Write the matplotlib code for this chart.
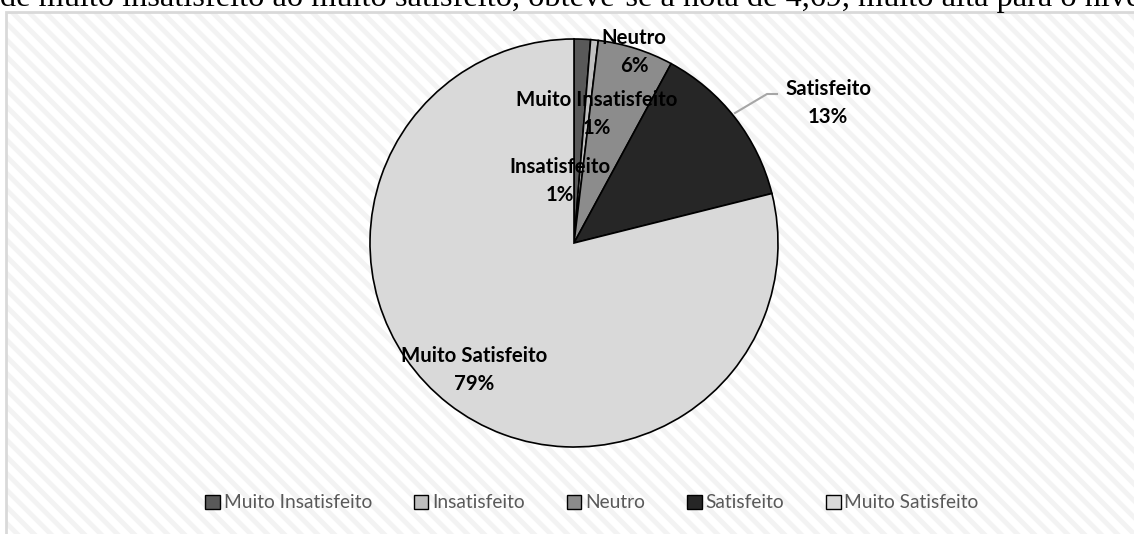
import matplotlib
matplotlib.use("Agg")
import matplotlib.pyplot as plt
from matplotlib.patches import Rectangle

categories = ["Muito Insatisfeito", "Insatisfeito", "Neutro", "Satisfeito", "Muito Satisfeito"]
shares = [1.3, 0.6, 6.0, 13.2, 78.9]
colors = ["#595959", "#bfbfbf", "#8c8c8c", "#262626", "#d9d9d9"]

# label text centres, pixel coords from the top-left corner
label_pos = [(597, 114), (560, 181), (634, 52), (828, 103), (474, 370)]

W, H = 1134, 534
plt.rcParams["hatch.linewidth"] = 3.5

fig = plt.figure(figsize=(W / 100, H / 100), dpi=100)
ax = fig.add_axes([0, 0, 1, 1])

# chart area: diagonal light stripes with a grey frame
ax.add_patch(Rectangle((5.5, -10), W + 20, H - 12 + 10, facecolor="white",
                       edgecolor="#f3f3f3", hatch="\\\\", linewidth=0, zorder=0))
ax.add_patch(Rectangle((5.5, -10), W + 20, H - 12 + 10, facecolor="none",
                       edgecolor="#d9d9d9", linewidth=2, zorder=1))

# line of body text running above the chart, cut at the top
ax.text(0, H - 6, "de muito insatisfeito ao muito satisfeito, obteve-se a nota de 4,69, "
        "muito alta para o nível", family="Liberation Serif", fontsize=23.3,
        va="baseline", ha="left", color="black", zorder=2)

cx, cy, r = 574, H - 243, 204
wedges, _ = ax.pie(shares, colors=colors, startangle=90, counterclock=False,
                   center=(cx, cy), radius=r, frame=True,
                   wedgeprops={"edgecolor": "black", "linewidth": 1.2})
for w in wedges:
    w.set_zorder(3)
ax.set_xlim(0, W)
ax.set_ylim(0, H)
ax.set_aspect("equal")
ax.axis("off")

for name, val, (lx, ly) in zip(categories, shares, label_pos):
    ax.text(lx, H - ly, f"{name}\n{val:.0f}%", ha="center", va="center",
            family="Lato", fontweight="bold", fontsize=14.7, linespacing=1.55,
            color="black", zorder=5)

# leader line for the Satisfeito label
ax.plot([735, 767, 777], [H - 113, H - 94, H - 94], color="#a6a6a6", lw=1.5, zorder=4)

handles = [Rectangle((0, 0), 1, 1, facecolor=c, edgecolor="black", linewidth=1) for c in colors]
leg = ax.legend(handles, categories, loc="center", bbox_to_anchor=(592 / W, (H - 503) / H),
                ncol=5, frameon=False, handlelength=0.75, handleheight=0.75,
                handletextpad=0.2, columnspacing=2.2,
                prop={"family": "Lato", "size": 13.8})
for t in leg.get_texts():
    t.set_color("#595959")

fig.savefig("out.png", dpi=100)
